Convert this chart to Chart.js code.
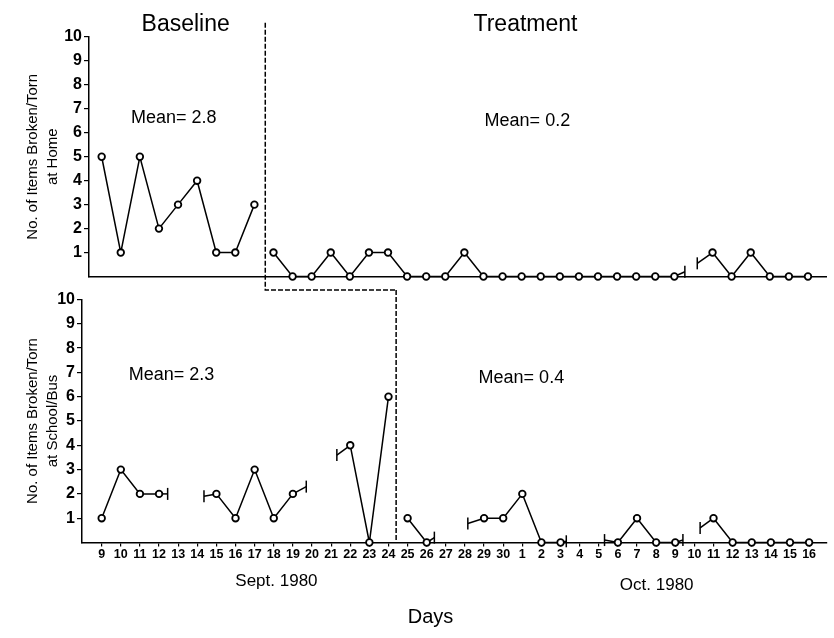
<!DOCTYPE html>
<html>
<head>
<meta charset="utf-8">
<title>Items Broken/Torn - Baseline vs Treatment</title>
<script src="https://cdn.jsdelivr.net/npm/chart.js@4.4.1/dist/chart.umd.min.js"></script>
<style>
  body { margin: 0; background: #fff; }
  #wrap { position: relative; width: 834px; height: 638px; }
  #wrap canvas { position: absolute; left: 0; top: 0; }
</style>
</head>
<body>
<div id="wrap">
  <canvas id="homeChart" width="834" height="638"></canvas>
  <canvas id="schoolChart" width="834" height="638"></canvas>
</div>
<script>
// days Sept 9 .. Oct 16, 1980 (index 0..37)
const dayLabels = ['9', '10', '11', '12', '13', '14', '15', '16', '17', '18', '19', '20', '21', '22',
  '23', '24', '25', '26', '27', '28', '29', '30',
  '1', '2', '3', '4', '5', '6', '7', '8', '9', '10', '11', '12', '13', '14', '15', '16'];
const yTicks = [1, 2, 3, 4, 5, 6, 7, 8, 9, 10];

const homeItems = [5, 1, 5, 2, 3, 4, 1, 1, 3,
  1, 0, 0, 1, 0, 1, 1, 0, 0, 0, 1, 0, 0,
  0, 0, 0, 0, 0, 0, 0, 0, 0, null, 1, 0, 1, 0, 0, 0];
const schoolItems = [1, 3, 2, 2, null, null, 2, 1, 3, 1, 2, null, null, 4, 0, 6,
  1, 0, null, null, 1, 1,
  2, 0, 0, null, null, 0, 1, 0, 0, null, 1, 0, 0, 0, 0, 0];

const homeTreatmentStart = 9;    // Sept 18
const schoolTreatmentStart = 16; // Sept 25

// broken-line stubs: [day the stub leaves, day where it stops, value where it stops]
const homeBreaks = [[30, 30.55, 0.2], [32, 31.2, 0.55]];
const schoolBreaks = [[3, 3.45, 2.0], [6, 5.35, 1.9], [10, 10.7, 2.3], [13, 12.3, 3.6],
  [17, 17.4, 0.2], [20, 19.15, 0.78], [24, 24.3, 0.05], [27, 26.3, 0.1],
  [30, 30.4, 0.1], [32, 31.3, 0.6]];

const FONT = "'Liberation Sans', Arial, Helvetica, sans-serif";
const INK = '#000';

function toPoints(values, from, to) {
  return values.slice(from, to).map((v, k) => ({ x: from + k, y: v }));
}

function lineSet(points) {
  return {
    data: points,
    borderColor: INK,
    borderWidth: 1.5,
    pointRadius: 3.3,
    pointBackgroundColor: '#fff',
    pointBorderColor: INK,
    pointBorderWidth: 1.8,
    spanGaps: false,
    tension: 0,
    clip: false
  };
}

function breakSet(values, [day, toDay, toValue]) {
  return {
    data: [{ x: day, y: values[day] }, { x: toDay, y: toValue }],
    borderColor: INK,
    borderWidth: 1.5,
    pointStyle: 'line',
    pointRotation: 90,
    pointRadius: c => (c.dataIndex === 1 ? 6 : 0),
    pointBorderColor: INK,
    pointBorderWidth: 1.5,
    clip: false
  };
}

// phase-change line and free text, placed through the chart's own scales
function figurePlugin(phase, texts) {
  return {
    id: 'figure',
    afterDatasetsDraw(chart) {
      const { ctx, scales: { x, y } } = chart;
      ctx.save();
      ctx.strokeStyle = INK;
      ctx.lineWidth = 1.5;
      ctx.setLineDash([5, 2]);
      ctx.beginPath();
      phase.forEach(([a, b], i) => {
        const px = x.getPixelForValue(a);
        const py = y.getPixelForValue(b);
        if (i) ctx.lineTo(px, py); else ctx.moveTo(px, py);
      });
      ctx.stroke();
      ctx.setLineDash([]);
      ctx.fillStyle = INK;
      ctx.textAlign = 'center';
      ctx.textBaseline = 'middle';
      texts.forEach(t => {
        ctx.font = t.font;
        ctx.fillText(t.text, x.getPixelForValue(t.x), y.getPixelForValue(t.y));
      });
      ctx.restore();
    }
  };
}

function yScale(title, width) {
  return {
    type: 'linear',
    min: 0,
    max: 10,
    afterBuildTicks: s => { s.ticks = yTicks.map(v => ({ value: v })); },
    afterFit: s => { s.width = width; },
    ticks: { color: INK, padding: 2, font: { family: FONT, size: 16, weight: 'bold' } },
    grid: { drawOnChartArea: false, tickLength: 5, color: INK, lineWidth: 1.2 },
    border: { color: INK, width: 1.5 },
    title: {
      display: true,
      text: title,
      color: INK,
      padding: { top: 5, bottom: 0 },
      font: { family: FONT, size: 15, lineHeight: 1.33 }
    }
  };
}

function createChart(canvasId, datasets, scales, padding, plugin) {
  return new Chart(document.getElementById(canvasId), {
    type: 'line',
    data: { datasets },
    options: {
      responsive: false,
      animation: false,
      events: [],
      layout: { padding },
      plugins: { legend: { display: false }, tooltip: { enabled: false } },
      scales
    },
    plugins: [plugin]
  });
}

createChart('homeChart',
  [
    lineSet(toPoints(homeItems, 0, homeTreatmentStart)),
    lineSet(toPoints(homeItems, homeTreatmentStart, homeItems.length)),
    ...homeBreaks.map(b => breakSet(homeItems, b))
  ],
  {
    x: {
      type: 'linear',
      min: -0.664,
      max: 37.97,
      afterFit: s => { s.height = 0; },
      ticks: { display: false },
      grid: { display: false },
      border: { color: INK, width: 1.5 }
    },
    y: yScale(['No. of Items Broken/Torn', 'at Home'], 71)
  },
  { left: 18, right: 6, top: 37, bottom: 361.5 },
  figurePlugin(
    [[8.57, 10.6], [8.57, -0.56], [15.4, -0.56]],
    [
      { text: 'Baseline', x: 4.4, y: 10.5, font: `23px ${FONT}` },
      { text: 'Treatment', x: 22.2, y: 10.5, font: `23px ${FONT}` },
      { text: 'Mean= 2.8', x: 3.78, y: 6.62, font: `18px ${FONT}` },
      { text: 'Mean= 0.2', x: 22.3, y: 6.49, font: `18px ${FONT}` }
    ]
  )
);

createChart('schoolChart',
  [
    lineSet(toPoints(schoolItems, 0, schoolTreatmentStart)),
    lineSet(toPoints(schoolItems, schoolTreatmentStart, schoolItems.length)),
    ...schoolBreaks.map(b => breakSet(schoolItems, b))
  ],
  {
    x: {
      type: 'linear',
      min: -1.03,
      max: 37.91,
      afterBuildTicks: s => { s.ticks = dayLabels.map((_, i) => ({ value: i })); },
      afterFit: s => { s.height = 20; },
      ticks: {
        color: INK,
        padding: 1,
        autoSkip: false,
        maxRotation: 0,
        font: { family: FONT, size: 12.5, weight: 'bold' },
        callback: v => dayLabels[v]
      },
      grid: { drawOnChartArea: false, tickLength: 4, color: INK, lineWidth: 1.2 },
      border: { color: INK, width: 1.5 }
    },
    y: yScale(['No. of Items Broken/Torn', 'at School/Bus'], 64)
  },
  { left: 18, right: 7, top: 299.5, bottom: 75.5 },
  figurePlugin(
    [[15.4, 10.39], [15.4, 0]],
    [
      { text: 'Mean= 2.3', x: 3.65, y: 6.9, font: `18px ${FONT}` },
      { text: 'Mean= 0.4', x: 21.95, y: 6.78, font: `18px ${FONT}` },
      { text: 'Sept. 1980', x: 9.14, y: -1.61, font: `17px ${FONT}` },
      { text: 'Oct. 1980', x: 29.03, y: -1.75, font: `17px ${FONT}` },
      { text: 'Days', x: 17.2, y: -3.1, font: `20px ${FONT}` }
    ]
  )
);
</script>
</body>
</html>
